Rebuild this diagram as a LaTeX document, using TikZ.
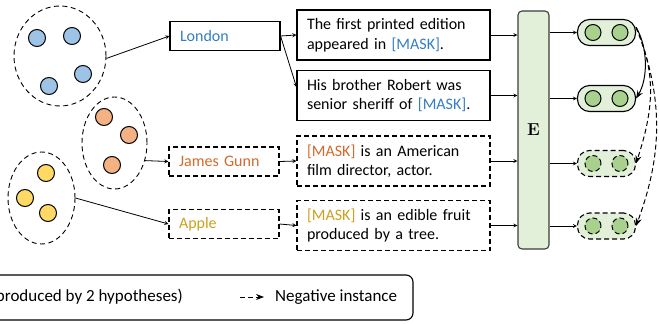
\documentclass[tikz,border=0pt]{standalone}
\usepackage[no-math]{fontspec}
\setmainfont{Carlito}
\usepackage{amsmath}
\usetikzlibrary{shapes.geometric,arrows.meta}

\definecolor{entblue}{RGB}{52,125,195}
\definecolor{entorange}{RGB}{212,105,40}
\definecolor{entyellow}{RGB}{204,160,30}
\definecolor{dotblue}{RGB}{157,195,230}
\definecolor{dotorange}{RGB}{244,177,131}
\definecolor{dotyellow}{RGB}{255,217,102}
\definecolor{dotgreen}{RGB}{169,209,142}
\definecolor{palegreen}{RGB}{226,240,217}
\definecolor{encgray}{RGB}{60,60,60}

\begin{document}
\begin{tikzpicture}[x=1pt, y=-1pt,
  every node/.style={font=\fontsize{16}{19.5}\selectfont},
  cluster/.style={draw, ellipse, line width=0.9pt, dash pattern=on 5pt off 3.5pt, inner sep=0pt},
  entbox/.style={draw, line width=1.1pt, minimum width=110pt, minimum height=29pt,
    text width=90pt, inner xsep=10pt, inner ysep=0pt, align=left},
  sentbox/.style={draw, line width=1.1pt, minimum width=193pt, minimum height=50pt,
    text width=173pt, inner xsep=10pt, inner ysep=0pt, align=left},
  negdash/.style={dash pattern=on 5pt off 3pt},
  pill/.style={draw, line width=1.1pt, rounded corners=12pt, minimum width=58pt,
    minimum height=26pt, fill=palegreen},
  link/.style={->, >=stealth, line width=0.8pt},
  pairarrow/.style={->, >={Stealth[length=8pt,width=6pt]}, line width=1pt},
]
\useasboundingbox (0,0) rectangle (659,324);

% Draw clusters.
\node[cluster, minimum width=92pt, minimum height=100pt] (cblue) at (60,56) {};
\node[cluster, minimum width=65pt, minimum height=92pt] (corange) at (114.5,143) {};
\node[cluster, minimum width=67pt, minimum height=92pt] (cyellow) at (41.5,198) {};

\filldraw[fill=dotblue, line width=1pt] (37,38) circle (8.5pt);
\filldraw[fill=dotblue, line width=1pt] (72,36) circle (8.5pt);
\filldraw[fill=dotblue, line width=1pt] (49,86) circle (8.5pt);
\filldraw[fill=dotblue, line width=1pt] (83,74) circle (8.5pt);

\filldraw[fill=dotorange, line width=1pt] (104,117) circle (8.5pt);
\filldraw[fill=dotorange, line width=1pt] (129,135) circle (8.5pt);
\filldraw[fill=dotorange, line width=1pt] (112,165) circle (8.5pt);

\filldraw[fill=dotyellow, line width=1pt] (46,173) circle (8.5pt);
\filldraw[fill=dotyellow, line width=1pt] (25,198) circle (8.5pt);
\filldraw[fill=dotyellow, line width=1pt] (48,213) circle (8.5pt);

% Draw entities.
\node[entbox] (london) at (225,36) {\textcolor{entblue}{London}};
\node[entbox, negdash] (gunn) at (224,161.5) {\textcolor{entorange}{James Gunn}};
\node[entbox, negdash] (apple) at (224,224) {\textcolor{entyellow}{Apple}};

\draw[link] (cblue.-3) -- (london.west);
\draw[link] (corange.-30) -- (gunn.west);
\draw[link] (cyellow.east) -- (apple.west);

% Draw sentences.
\node[sentbox] (s1) at (393.5,35) {The first printed edition\\appeared in \textcolor{entblue}{[MASK]}.};
\node[sentbox] (s2) at (393.5,95.5) {His brother Robert was\\senior sheriff of \textcolor{entblue}{[MASK]}.};
\node[sentbox, negdash] (s3) at (393.5,161) {\textcolor{entorange}{[MASK]} is an American\\film director, actor.};
\node[sentbox, negdash] (s4) at (393.5,225.5) {\textcolor{entyellow}{[MASK]} is an edible fruit\\produced by a tree.};

\draw[link] (london.east) -- (s1.west);
\draw[link] (london.east) -- (s2.175);
\draw[link] (gunn.east) -- (s3.west);
\draw[link] (apple.east) -- (s4.west);

% Draw encoder.
\node[draw=encgray, line width=1.1pt, fill=palegreen, rounded corners=4pt,
  minimum width=31pt, minimum height=238pt, inner sep=0pt] (enc) at (533.5,130) {$\mathbf{E}$};

\draw[link] (s1.east) -- (enc.west |- s1.east);
\draw[link] (s2.east) -- (enc.west |- s2.east);
\draw[link] (s3.east) -- (enc.west |- s3.east);
\draw[link] (s4.east) -- (enc.west |- s4.east);

% Draw representations.
\node[pill] (p1) at (606.5,32.5) {};
\node[pill] (p2) at (606.5,98.5) {};
\node[pill, negdash] (p3) at (606.5,163.5) {};
\node[pill, negdash] (p4) at (606.5,226) {};

\filldraw[fill=dotgreen, line width=1pt] (593,32.5) circle (8pt);
\filldraw[fill=dotgreen, line width=1pt] (620,32.5) circle (8pt);
\filldraw[fill=dotgreen, line width=1pt] (593,98.5) circle (8pt);
\filldraw[fill=dotgreen, line width=1pt] (620,98.5) circle (8pt);
\filldraw[fill=dotgreen, line width=1pt, negdash] (593,163.5) circle (8pt);
\filldraw[fill=dotgreen, line width=1pt, negdash] (620,163.5) circle (8pt);
\filldraw[fill=dotgreen, line width=1pt, negdash] (593,226) circle (8pt);
\filldraw[fill=dotgreen, line width=1pt, negdash] (620,226) circle (8pt);

\draw[link] (enc.east |- p1.west) -- (p1.west);
\draw[link] (enc.east |- p2.west) -- (p2.west);
\draw[link] (enc.east |- p3.west) -- (p3.west);
\draw[link] (enc.east |- p4.west) -- (p4.west);

% Draw positive and negative pairs.
\draw[pairarrow] (p1.10) .. controls +(12,20) and +(12,-20) .. (p2.east);
\draw[pairarrow, negdash] (p1.10) .. controls +(22,50) and +(16,-50) .. (p3.east);
\draw[pairarrow, negdash] (p1.10) .. controls +(32,80) and +(22,-60) .. (p4.east);

% Draw legend.
\draw[line width=1.1pt, rounded corners=7pt] (-20,275) rectangle (413,320);
\node[anchor=east, inner sep=0pt, font=\fontsize{17}{20}\selectfont] (legpos) at (183,297) {produced by 2 hypotheses)};
\coordinate (negfrom) at (240,297);
\coordinate (negto) at (264,297);
\draw[pairarrow, negdash] (negfrom) -- (negto);
\node[anchor=west, inner sep=0pt, font=\fontsize{17}{20}\selectfont] (legneg) at (275,297) {Negative instance};

\end{tikzpicture}
\end{document}
